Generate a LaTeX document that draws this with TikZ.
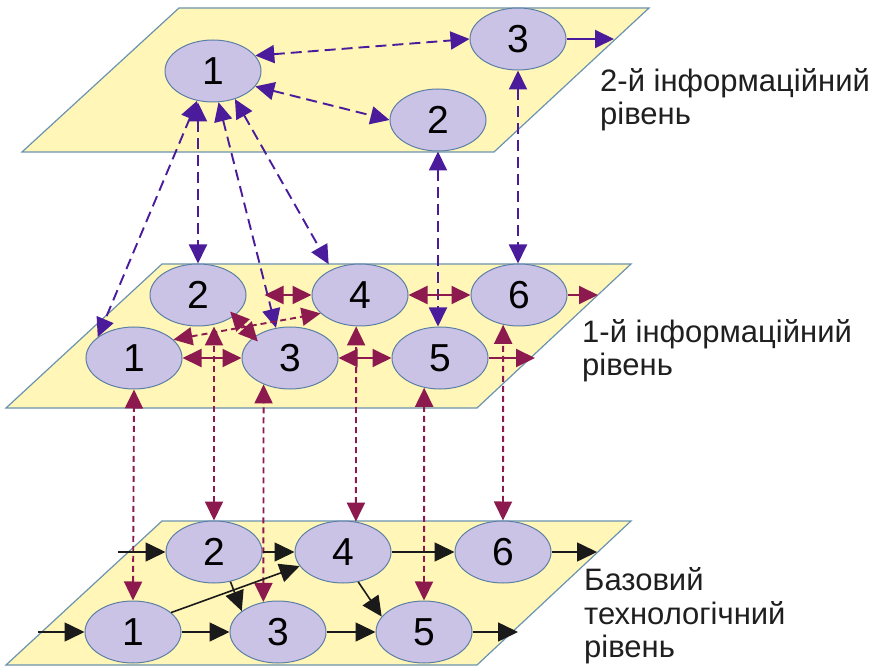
\documentclass[tikz,border=0pt]{standalone}
\usepackage{fontspec}
\setmainfont{Liberation Sans}
\usetikzlibrary{shapes.geometric,arrows.meta}
\definecolor{planefill}{HTML}{FFF6B8}
\definecolor{planeline}{HTML}{6B93B0}
\definecolor{nodefill}{HTML}{CBC3E6}
\definecolor{nodeline}{HTML}{5B7FA5}
\definecolor{upviolet}{HTML}{4A1C9C}
\definecolor{upmaroon}{HTML}{8C1A4E}
\definecolor{flowblack}{HTML}{1A1A1A}
\pgfdeclarelayer{bg}
\pgfdeclarelayer{fg}
\pgfsetlayers{bg,main,fg}
\begin{document}
\begin{tikzpicture}[x=1pt,y=-1pt,
  plane/.style={fill=planefill, draw=planeline, line width=1.2pt},
  st/.style={ellipse, fill=nodefill, draw=nodeline, line width=1pt,
    minimum width=96pt, minimum height=62pt, inner sep=0pt,
    font=\fontsize{39}{39}\selectfont},
  vio/.style={draw=upviolet, line width=1.9pt, dash pattern=on 11pt off 6pt,
    >={Triangle[length=19pt,width=18pt]}},
  mar/.style={draw=upmaroon, line width=1.9pt,
    >={Triangle[length=19pt,width=18pt]}},
  mdash/.style={dash pattern=on 6pt off 4pt},
  blk/.style={draw=flowblack, line width=1.6pt,
    >={Triangle[length=20pt,width=19pt]}},
  lbl/.style={font=\fontsize{31}{34}\selectfont, anchor=base west,
    inner sep=0pt, text=black!88}]
\useasboundingbox (0,0) rectangle (881,668);

\begin{pgfonlayer}{bg}
\path[plane] (179,8) -- (649,8) -- (494,152) -- (22,152) -- cycle;
\path[plane] (162,264) -- (631,264) -- (477,408) -- (6,408) -- cycle;
\path[plane] (162,521) -- (631,521) -- (477,665) -- (6,665) -- cycle;
\end{pgfonlayer}

% top level
\node[st] (t1) at (213,71) {1};
\node[st] (t2) at (438,120) {2};
\node[st] (t3) at (518,39) {3};
% middle level
\node[st] (m2) at (198,295) {2};
\node[st] (m4) at (360,295) {4};
\node[st] (m6) at (519,295) {6};
\node[st] (m1) at (134,358) {1};
\node[st] (m3) at (290,358) {3};
\node[st] (m5) at (440,358) {5};
% base level
\node[st] (b2) at (214,552) {2};
\node[st] (b4) at (343,552) {4};
\node[st] (b6) at (503,552) {6};
\node[st] (b1) at (133,632) {1};
\node[st] (b3) at (278,632) {3};
\node[st] (b5) at (424,632) {5};

\coordinate (t3o) at (614,39);
\coordinate (m6o) at (598,295);
\coordinate (m5o) at (535,358);
\coordinate (b2i) at (118,552);
\coordinate (b1i) at (38,632);
\coordinate (b6o) at (597,552);
\coordinate (b5o) at (518,632);

\node[lbl] (l2a) at (600,92) {2-й інформаційний};
\node[lbl] (l2b) at (600,125) {рівень};
\node[lbl] (l1a) at (582,342) {1-й інформаційний};
\node[lbl] (l1b) at (582,375) {рівень};
\node[lbl] (l0a) at (584,590) {Базовий};
\node[lbl] (l0b) at (584,624) {технологічний};
\node[lbl] (l0c) at (584,657) {рівень};

\begin{pgfonlayer}{fg}
% top level and top-middle links
\draw[vio,<->] (t1.20) -- (t3.west);
\draw[vio,<->] (t1.-20) -- (t2.west);
\draw[vio,<->] (t1.-118) -- (m1.150);
\draw[vio,<->] (m2.north |- t1.south) -- (m2.north);
\draw[vio,<->] (t1.-80) -- (m3.115);
\draw[vio,<->,shorten >=6pt] (t1.-52) -- (m4.138);
\draw[vio,<->] (t2.south) -- (t2.south |- m5.north);
\draw[vio,<->] (t3.south) -- (t3.south |- m6.north);
\draw[vio,solid,->] (t3.east) -- (t3o);
% middle level
\draw[mar,<->] (m1.east) -- (m3.west);
\draw[mar,<->] (m3.east) -- (m5.west);
\draw[mar,<->,shorten <=18pt] (m2.east) -- (m4.west);
\draw[mar,<->] (m4.east) -- (m6.west);
\draw[mar,<->,shorten <=-6pt,shorten >=-6pt] (m2.-30) -- (m3.150);
\draw[mar,mdash,<->] (m1.25) -- (m4.-155);
\draw[mar,->] (m6.east) -- (m6o);
\draw[mar,->] (m5.east) -- (m5o);
% middle-base links
\draw[mar,mdash,<->] (b1.north) -- (m1.south);
\draw[mar,mdash,<->] (b2.north) -- (b2.north |- m2.south);
\draw[mar,mdash,<->] (b3.116) -- (m3.-135.5);
\draw[mar,mdash,<->] (b4.67) -- (m4.-97);
\draw[mar,mdash,<->] (b5.north) -- (m5.-118);
\draw[mar,mdash,<->] (b6.north) -- (m6.-118);
% base level
\draw[blk,->] (b2i) -- (b2.west);
\draw[blk,->] (b1i) -- (b1.west);
\draw[blk,->] (b2.east) -- (b4.west);
\draw[blk,->] (b4.east) -- (b6.west);
\draw[blk,->] (b6.east) -- (b6o);
\draw[blk,->] (b1.east) -- (b3.west);
\draw[blk,->] (b3.east) -- (b5.west);
\draw[blk,->] (b5.east) -- (b5o);
\draw[blk,->] (b1.27) -- (b4.198);
\draw[blk,->] (b2.-61) -- (b3.150);
\draw[blk,->] (b4.-63) -- (b5.160);
\end{pgfonlayer}
\end{tikzpicture}
\end{document}
